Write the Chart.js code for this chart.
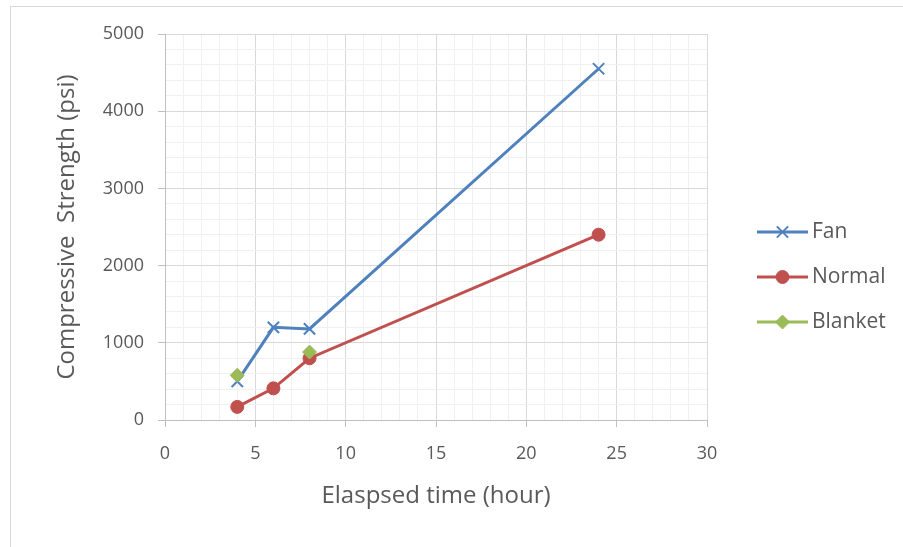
<!DOCTYPE html>
<html>
<head>
<meta charset="utf-8">
<script src="https://cdn.jsdelivr.net/npm/chart.js@4.4.1/dist/chart.umd.min.js"></script>
<style>
  html, body { margin: 0; padding: 0; background: #ffffff; overflow: hidden; }
  #wrap { position: relative; width: 903px; height: 547px; }
  #frame { position: absolute; left: 10px; top: 6px; width: 1000px; height: 700px; border: 1px solid #d9d9d9; box-sizing: border-box; }
  canvas { position: absolute; left: 0; top: 0; }
</style>
</head>
<body>
<div id="wrap">
  <div id="frame"></div>
  <canvas id="c" width="903" height="547"></canvas>
</div>
<script>
const elapsedHours = [4, 6, 8, 24];
const fanStrength = [500, 1200, 1180, 4550];
const normalStrength = [170, 410, 800, 2400];
const blanketStrength = [580, null, 880, null];
const seriesNames = ['Fan', 'Normal', 'Blanket'];
const xTitle = 'Elaspsed time (hour)';
const yTitle = 'Compressive  Strength (psi)';

const TEXT = '#595959';
const FONT = 'Open Sans';

function pts(ys) { return elapsedHours.map((x, i) => ({ x: x, y: ys[i] })); }

const datasets = [
  { label: seriesNames[0], data: pts(fanStrength), borderColor: '#4f81bd', backgroundColor: '#4f81bd',
    pointStyle: 'crossRot', pointRadius: 8, pointBorderWidth: 2, borderWidth: 3, order: 2 },
  { label: seriesNames[1], data: pts(normalStrength), borderColor: '#c0504d', backgroundColor: '#c0504d',
    pointStyle: 'circle', pointRadius: 6.5, pointBorderWidth: 1, borderWidth: 3, order: 1 },
  { label: seriesNames[2], data: pts(blanketStrength), borderColor: '#9bbb59', backgroundColor: '#9bbb59',
    pointStyle: 'rectRot', pointRadius: 7, pointBorderWidth: 1, borderWidth: 3, order: 0, spanGaps: false }
];

const legendPlugin = {
  id: 'sideLegend',
  afterDraw(chart) {
    const ctx = chart.ctx;
    const x0 = 757, x1 = 808, ys = [232, 277, 322];
    chart.data.datasets.forEach((ds, i) => {
      const y = ys[i];
      ctx.save();
      ctx.strokeStyle = ds.borderColor;
      ctx.lineWidth = 3;
      ctx.beginPath(); ctx.moveTo(x0, y); ctx.lineTo(x1, y); ctx.stroke();
      ctx.fillStyle = ds.backgroundColor;
      ctx.strokeStyle = ds.borderColor;
      ctx.lineWidth = ds.pointBorderWidth;
      Chart.helpers.drawPoint(ctx, {
        pointStyle: ds.pointStyle, rotation: 0, radius: ds.pointRadius,
        borderWidth: ds.pointBorderWidth
      }, (x0 + x1) / 2, y);
      ctx.restore();
      ctx.save();
      ctx.fillStyle = TEXT;
      ctx.font = '21px "' + FONT + '"';
      ctx.textBaseline = 'middle';
      ctx.fillText(ds.label, 812, y);
      ctx.restore();
    });
  }
};

new Chart(document.getElementById('c'), {
  type: 'line',
  data: { datasets: datasets },
  options: {
    responsive: false,
    animation: false,
    layout: { padding: { left: 0, right: 196, top: 34, bottom: 0 } },
    plugins: { legend: { display: false }, tooltip: { enabled: false } },
    elements: { line: { tension: 0 } },
    scales: {
      x: {
        type: 'linear', min: 0, max: 30,
        afterFit(s) { s.height = 127; },
        ticks: { stepSize: 1, maxTicksLimit: 100, autoSkip: false, maxRotation: 0,
          callback: v => (v % 5 === 0 ? String(v) : ''),
          color: TEXT, font: { family: FONT, size: 18 }, padding: 16 },
        grid: {
          color: c => (c.tick && c.tick.value % 5 === 0 ? '#d9d9d9' : '#f0f0f0'),
          tickColor: c => (c.tick && c.tick.value % 5 === 0 ? '#bfbfbf' : 'rgba(0,0,0,0)'),
          tickLength: 7, lineWidth: 1
        },
        border: { color: '#bfbfbf', width: 1 },
        title: { display: true, text: xTitle, color: TEXT, font: { family: FONT, size: 24 }, padding: { top: 0, bottom: 36 } }
      },
      y: {
        type: 'linear', min: 0, max: 5000,
        afterFit(s) { s.width = 165; },
        ticks: { stepSize: 200, maxTicksLimit: 100, autoSkip: false,
          callback: v => (v % 1000 === 0 ? String(v) : ''),
          color: TEXT, font: { family: FONT, size: 18 }, padding: 14 },
        grid: {
          color: c => (c.tick && c.tick.value % 1000 === 0 ? '#d9d9d9' : '#f0f0f0'),
          tickColor: c => (c.tick && c.tick.value % 1000 === 0 ? '#bfbfbf' : 'rgba(0,0,0,0)'),
          tickLength: 7, lineWidth: 1
        },
        border: { color: '#bfbfbf', width: 1 },
        title: { display: true, text: yTitle, color: TEXT, font: { family: FONT, size: 24 }, padding: { top: 53, bottom: 0 } }
      }
    }
  },
  plugins: [legendPlugin]
});
</script>
</body>
</html>
